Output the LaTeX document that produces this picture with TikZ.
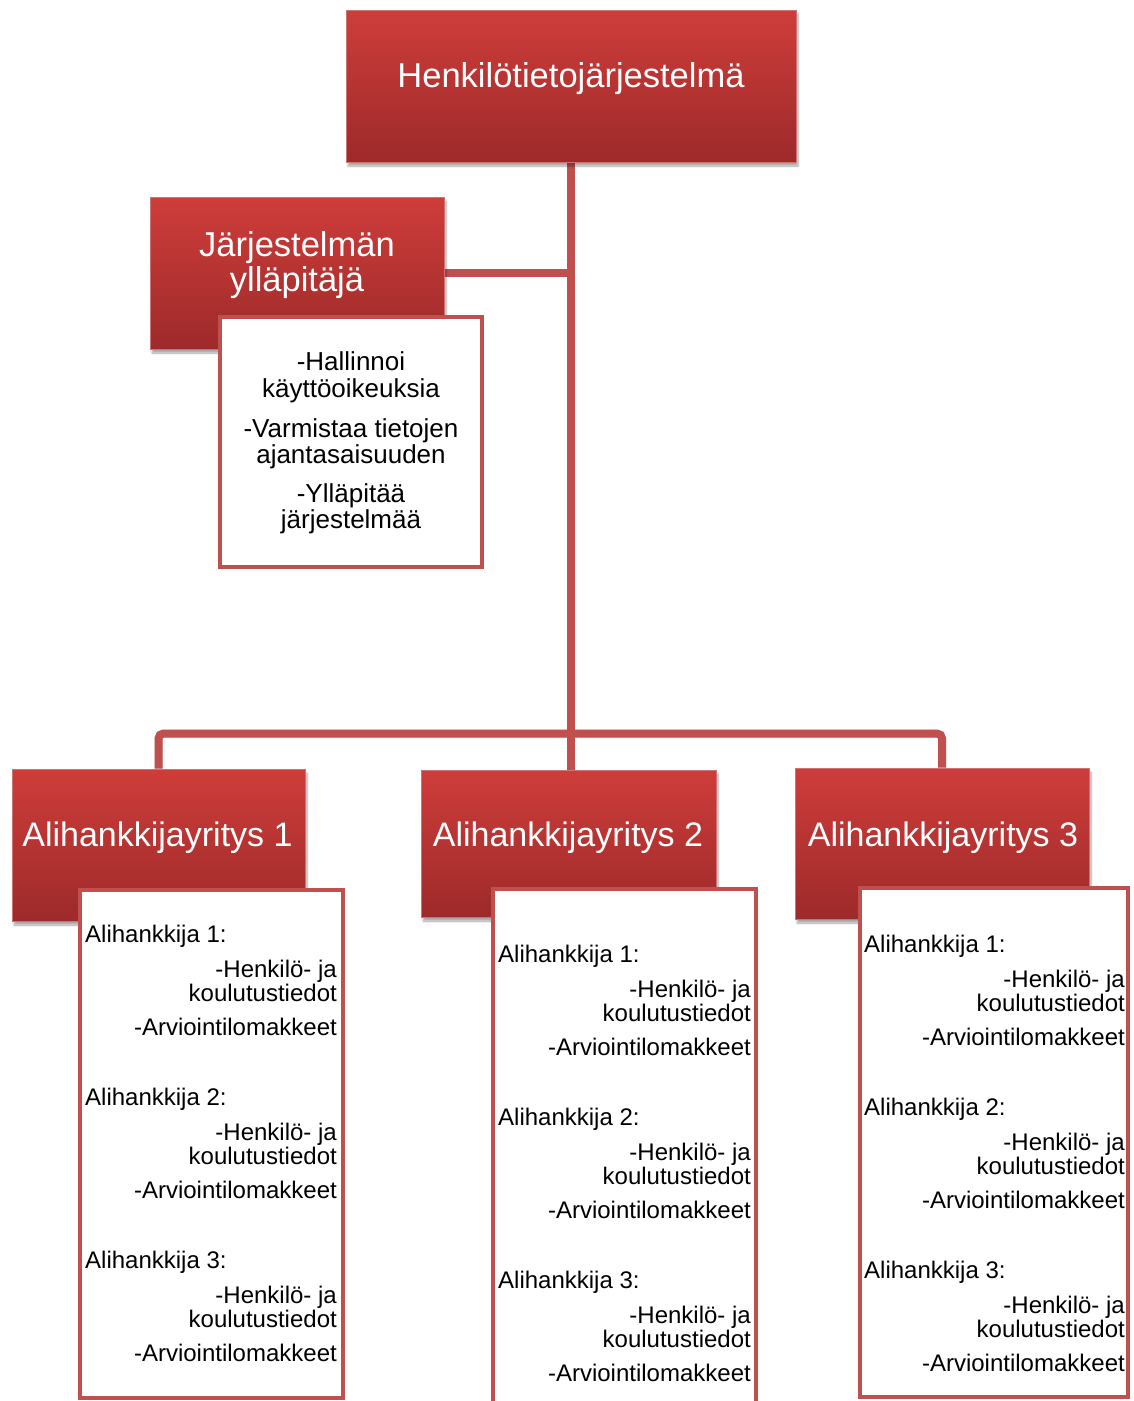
\documentclass[tikz,border=0pt]{standalone}
\usepackage{fontspec}
\setmainfont{Liberation Sans}
\usetikzlibrary{shadows.blur,calc,backgrounds}
\definecolor{accent}{HTML}{C0504D}
\definecolor{redtop}{HTML}{CE3D3A}
\definecolor{redbot}{HTML}{9D2A2A}
\tikzset{
 redbox/.style={rectangle, draw=accent!80!white, line width=1pt, top color=redtop, bottom color=redbot, inner sep=0pt,
   blur shadow={shadow xshift=2pt,shadow yshift=-4pt,shadow blur steps=6,shadow opacity=35}},
 subbox/.style={rectangle, draw=accent, line width=4pt, fill=white, inner sep=0pt},
 conn/.style={draw=accent, line width=8pt},
 connshadow/.style={draw=black, opacity=0.15, line width=8pt, xshift=2pt, yshift=-2pt},
 whitetxt/.style={text=white, inner sep=0pt, anchor=base, font=\fontsize{34.5}{36}\selectfont},
 listtxt/.style={text=black, inner sep=0pt, anchor=base, font=\fontsize{26}{27}\selectfont},
 subl/.style={text=black, inner sep=0pt, anchor=base west, font=\fontsize{24}{25}\selectfont},
 subr/.style={text=black, inner sep=0pt, anchor=base east, font=\fontsize{24}{25}\selectfont},
}
\begin{document}
\begin{tikzpicture}[x=1pt,y=-1pt]
\useasboundingbox (0,0) rectangle (1134,1401);
% red boxes
\node[redbox, minimum width=450pt, minimum height=152pt] (top) at (571,86) {};
\node[redbox, minimum width=294pt, minimum height=152pt] (admin) at (297,273) {};
\node[redbox, minimum width=293pt, minimum height=152pt] (c1) at (158.5,845) {};
\node[redbox, minimum width=295pt, minimum height=147pt] (c2) at (568.5,843.5) {};
\node[redbox, minimum width=294pt, minimum height=151pt] (c3) at (942,843.5) {};
\coordinate (bus) at (571,733.5);
% connectors behind the boxes
\begin{pgfonlayer}{background}
\draw[connshadow] (top.south) -- (top.south |- bus);
\draw[connshadow] (admin.east) -- (admin.east -| top.south);
\draw[connshadow, rounded corners=5pt] (c1.north) -- (c1.north |- bus) -- (c3.north |- bus) -- (c3.north);
\draw[conn] (top.south) -- (top.south |- bus);
\draw[conn] (admin.east) -- (admin.east -| top.south);
\draw[conn, rounded corners=5pt] (c1.north) -- (c1.north |- bus) -- (c3.north |- bus) -- (c3.north);
\draw[conn] (bus) -- (bus |- c2.north);
\end{pgfonlayer}
% white sub boxes
\node[subbox, minimum width=262pt, minimum height=250pt] (adminsub) at (351,442) {};
\node[subbox, minimum width=263pt, minimum height=508pt] (s1) at (211.5,1144) {};
\node[subbox, minimum width=263pt, minimum height=531pt] (s2) at (624.5,1154.5) {};
\node[subbox, minimum width=268pt, minimum height=509pt] (s3) at (994,1142.5) {};
% texts in red boxes
\node[whitetxt] (toptxt) at (571,87) {Henkilötietojärjestelmä};
\node[whitetxt] (admintxt1) at (297,256) {Järjestelmän};
\node[whitetxt] (admintxt2) at (297,291) {ylläpitäjä};
\node[whitetxt, font=\fontsize{34}{36}\selectfont] (c1txt) at (157.5,846) {Alihankkijayritys 1};
\node[whitetxt, font=\fontsize{34}{36}\selectfont] (c2txt) at (568,846) {Alihankkijayritys 2};
\node[whitetxt, font=\fontsize{34}{36}\selectfont] (c3txt) at (943,846) {Alihankkijayritys 3};
% admin list
\node[listtxt] (al1) at (351,370) {-Hallinnoi};
\node[listtxt] (al2) at (351,397) {käyttöoikeuksia};
\node[listtxt] (al3) at (351,437) {-Varmistaa tietojen};
\node[listtxt] (al4) at (351,463) {ajantasaisuuden};
\node[listtxt] (al5) at (351,502) {-Ylläpitää};
\node[listtxt] (al6) at (351,528) {järjestelmää};
% subcontractor lists
\foreach \b/\L/\R/\o in {1/85/337/0, 2/498/751/20, 3/864/1125/10} {
  \foreach \g in {1,2,3} {
    \pgfmathsetmacro\yy{942+\o+163*(\g-1)}
    \node[subl] (t\b-\g-a) at (\L,\yy) {Alihankkija \g:};
    \node[subr] (t\b-\g-b) at (\R,\yy+35) {-Henkilö- ja};
    \node[subr] (t\b-\g-c) at (\R,\yy+59) {koulutustiedot};
    \node[subr] (t\b-\g-d) at (\R,\yy+93) {-Arviointilomakkeet};
  }
}
\end{tikzpicture}
\end{document}
